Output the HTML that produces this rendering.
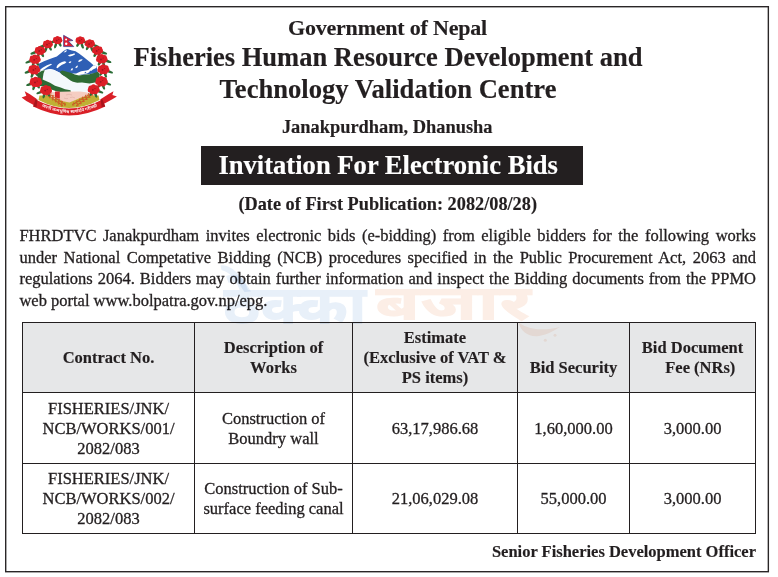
<!DOCTYPE html>
<html lang="en">
<head>
<meta charset="utf-8">
<title>Invitation For Electronic Bids</title>
<style>
html,body{margin:0;padding:0;background:#fff;}
body{width:778px;height:577px;position:relative;overflow:hidden;
  font-family:"Liberation Serif","Times New Roman",serif;color:#231f20;-webkit-text-stroke:0.3px #231f20;}
.b,.ln,.sig{-webkit-text-stroke:0.15px #231f20;}
.t5{-webkit-text-stroke:0.15px #fff;}
.wm{-webkit-text-stroke:0;}
.frame{position:absolute;left:0;top:0;}
.ln{position:absolute;left:0;width:776px;text-align:center;white-space:nowrap;line-height:1;font-weight:bold;}
.t1{top:16.9px;font-size:22px;letter-spacing:-0.2px;margin-left:-0.5px;}
.t2{top:43.5px;font-size:26.5px;}
.t3{top:76.1px;font-size:26.6px;}
.t4{top:117.9px;font-size:18.4px;margin-left:-0.8px;}
.bar{position:absolute;left:201px;top:146px;width:382px;height:39px;background:#231f20;}
.t5{position:absolute;left:218.4px;top:151.8px;font-size:26.6px;line-height:1;font-weight:bold;color:#fff;white-space:nowrap;}
.t6{top:194.9px;font-size:18.3px;margin-left:-0.3px;}
.para{position:absolute;left:19.4px;top:224.8px;width:736.6px;font-size:16.5px;line-height:21.75px;text-align:justify;margin:0;}
.hd{position:absolute;left:22px;top:322px;width:734px;height:71px;background:#e6e7e8;}
.h{position:absolute;background:#231f20;height:1px;left:22px;width:734px;}
.v{position:absolute;background:#231f20;width:1px;top:322px;height:212px;}
.c{position:absolute;padding-top:1.2px;box-sizing:border-box;display:flex;align-items:center;justify-content:center;text-align:center;font-size:16.5px;line-height:20px;}
.b{font-weight:bold;}
.sig{position:absolute;left:20px;width:736px;top:544.1px;text-align:right;font-size:16.5px;line-height:1;font-weight:bold;white-space:nowrap;}
.wm{position:absolute;font-family:"Noto Sans Devanagari","Baloo 2","Mukta",sans-serif;font-weight:800;line-height:1;white-space:nowrap;transform-origin:0 0;mix-blend-mode:multiply;}
.wm1{left:223px;top:283.7px;font-size:54px;color:#e8f0f9;transform:scaleX(1.117);}
.wm2{left:375.3px;top:283.1px;font-size:50px;color:#fceee6;transform:scaleX(1.43);}
.wm3{position:absolute;left:0;top:0;mix-blend-mode:multiply;}
.emb{position:absolute;left:18px;top:30px;-webkit-text-stroke:0;}
</style>
</head>
<body>
<svg class="frame" width="778" height="577" viewBox="0 0 778 577"><rect x="5.7" y="6.7" width="762.65" height="565" fill="none" stroke="#2a2627" stroke-width="1.4"/></svg>

<svg class="emb" width="104" height="90" viewBox="18 30 104 90">
<polygon points="36.5,98.8 29.9,94.3 24.7,91.3 26.3,95.7 21.6,97.4 26.3,101 34.1,105.2 37,106" fill="#d91f27"/>
<polygon points="100.5,99.2 109.1,93.7 113.5,91.2 112.4,95.1 116.9,96.5 111.9,99.5 104.1,103.7 101,105" fill="#d91f27"/>
<polygon points="39.3,70.5 38.8,63.8 44,61.2 48.5,59.6 52.5,58 56.8,56.6 60.5,53.5 63.5,51 66,49.4 67.6,49.1 69.5,49.8 72,50.6 75.5,51.2 79,53.5 83,56.5 87,59.8 90.5,62.5 93.5,65.2 96.5,66.3 97.8,73 90,74 76,75.5 62,76 59.8,72.7 53.9,69.8 50.2,68.9 46,69.8" fill="#2f5fb5"/>
<polygon points="56.3,67.5 57.5,65 59.5,63.3 62,62 64.5,61.3 66.5,62 65,63.5 62,64.8 59.5,66.5 57.5,68.3" fill="#ffffff"/>
<polygon points="67.8,55.8 70,54.5 72.5,54 74.5,53.2 75,54.5 72.5,55.8 70,56.5" fill="#ffffff"/>
<polygon points="78,61.2 79.5,59.8 81.5,59.2 82.8,59.6 81.2,61 79,62" fill="#ffffff"/>
<polygon points="75.3,67.5 76.5,66 78,65.6 77.5,67.3 76,68.2" fill="#ffffff"/>
<polygon points="70.5,70.5 71.5,68.5 73,68.3 72.5,70.2" fill="#ffffff"/>
<polygon points="40,69.8 43,67.5 47,65.3 51,63.8 52,64.6 48,66.8 44,69.5 41.5,70.5" fill="#ffffff"/>
<polygon points="93.5,65.2 96.6,66.2 96.2,68 93,69.5 90.5,71.5 87,73.5 82,74.5 76,75.5 72,75.5 72.5,73.6 76.1,73.4 81.1,71.2 86,70.6 88.3,70.1 91,67.5" fill="#ffffff"/>
<polygon points="63.5,52.5 65.5,50.5 67,50.2 66,52" fill="#ffffff"/>
<polygon points="68.5,62.5 70.2,61.2 71.5,61.8 70,63.2" fill="#ffffff"/>
<path d="M89,72.3 l1.5,-1.8 l1,1.2 z M84,73.3 l1.6,-1.5 l0.8,1.3 z" fill="#2f5fb5"/>
<polygon points="39.3,70.6 46,69.9 50.2,69 53.9,69.9 59.8,72.8 62,74.5 66,77 70.5,80.4 73,81.5 77.1,82.5 82,82.5 89.5,83.3 91.5,84.6 91.5,92.5 80,92.5 70.5,90.3 65,89.5 60.7,87.8 55,86 50,83 42.6,79.6 41,76" fill="#f3f8fc"/>
<polygon points="59.6,71.8 62.3,70.4 66,71.4 70.5,72.8 74.8,74.6 78.8,75.4 84,74.8 89.5,74.2 94,73 98,71.8 99.5,74 99.5,83 95,82.6 89.5,83.4 82,82.6 77.1,82.7 73,81.7 70.5,80.5 66,77.2 62,74.6" fill="#2e6a34"/>
<polygon points="37.5,73.5 41.5,71 44.8,69.9 43.5,73.5 42.6,79.4 50,82.8 55,85.8 60.7,87.6 65,89.3 70.5,90.2 71,92.8 63,92.8 57,91.5 50,89 44,86.5 39.5,86 37.5,80" fill="#2e6a34"/>
<path d="M39.5,95.5 L98.5,95.5 L99.5,100 Q69,116 38.5,100 Z" fill="#bfb134"/>
<polygon points="50.8,92.2 60,91.8 70,91.4 80,91.4 87.8,92.4 88,96 81,97.5 76,99.8 69.5,102.4 63,101.2 57.5,99 50.8,98.2" fill="#f5cdc2"/>
<polygon points="55,91.6 59.8,91.6 59.8,98.6 55,98.4" fill="#d9232b"/>
<path d="M66,95 q3,-1.5 6,0 M70,97.5 q3,-1 5,0.5 M64,98 q2,1 4,0.5" stroke="#d9a79c" stroke-width="0.5" fill="none"/>
<line x1="42" y1="91" x2="63" y2="106" stroke="#a8501e" stroke-width="0.7"/>
<ellipse cx="43.5" cy="91.2" rx="1.4" ry="0.55" transform="rotate(11 43.5 91.2)" fill="#d65a26"/>
<ellipse cx="43.5" cy="93.0" rx="1.4" ry="0.55" transform="rotate(61 43.5 93.0)" fill="#d65a26"/>
<ellipse cx="46.5" cy="93.3" rx="1.4" ry="0.55" transform="rotate(11 46.5 93.3)" fill="#d65a26"/>
<ellipse cx="46.5" cy="95.1" rx="1.4" ry="0.55" transform="rotate(61 46.5 95.1)" fill="#d65a26"/>
<ellipse cx="49.5" cy="95.5" rx="1.4" ry="0.55" transform="rotate(11 49.5 95.5)" fill="#d65a26"/>
<ellipse cx="49.5" cy="97.3" rx="1.4" ry="0.55" transform="rotate(61 49.5 97.3)" fill="#d65a26"/>
<ellipse cx="52.5" cy="97.6" rx="1.4" ry="0.55" transform="rotate(11 52.5 97.6)" fill="#d65a26"/>
<ellipse cx="52.5" cy="99.4" rx="1.4" ry="0.55" transform="rotate(61 52.5 99.4)" fill="#d65a26"/>
<ellipse cx="55.5" cy="99.7" rx="1.4" ry="0.55" transform="rotate(11 55.5 99.7)" fill="#d65a26"/>
<ellipse cx="55.5" cy="101.5" rx="1.4" ry="0.55" transform="rotate(61 55.5 101.5)" fill="#d65a26"/>
<ellipse cx="58.5" cy="101.9" rx="1.4" ry="0.55" transform="rotate(11 58.5 101.9)" fill="#d65a26"/>
<ellipse cx="58.5" cy="103.7" rx="1.4" ry="0.55" transform="rotate(61 58.5 103.7)" fill="#d65a26"/>
<ellipse cx="61.5" cy="104.0" rx="1.4" ry="0.55" transform="rotate(11 61.5 104.0)" fill="#d65a26"/>
<ellipse cx="61.5" cy="105.8" rx="1.4" ry="0.55" transform="rotate(61 61.5 105.8)" fill="#d65a26"/>
<line x1="46" y1="92" x2="66" y2="105" stroke="#a8501e" stroke-width="0.7"/>
<ellipse cx="47.4" cy="92.0" rx="1.4" ry="0.55" transform="rotate(8 47.4 92.0)" fill="#d65a26"/>
<ellipse cx="47.4" cy="93.8" rx="1.4" ry="0.55" transform="rotate(58 47.4 93.8)" fill="#d65a26"/>
<ellipse cx="50.3" cy="93.9" rx="1.4" ry="0.55" transform="rotate(8 50.3 93.9)" fill="#d65a26"/>
<ellipse cx="50.3" cy="95.7" rx="1.4" ry="0.55" transform="rotate(58 50.3 95.7)" fill="#d65a26"/>
<ellipse cx="53.1" cy="95.7" rx="1.4" ry="0.55" transform="rotate(8 53.1 95.7)" fill="#d65a26"/>
<ellipse cx="53.1" cy="97.5" rx="1.4" ry="0.55" transform="rotate(58 53.1 97.5)" fill="#d65a26"/>
<ellipse cx="56.0" cy="97.6" rx="1.4" ry="0.55" transform="rotate(8 56.0 97.6)" fill="#d65a26"/>
<ellipse cx="56.0" cy="99.4" rx="1.4" ry="0.55" transform="rotate(58 56.0 99.4)" fill="#d65a26"/>
<ellipse cx="58.9" cy="99.5" rx="1.4" ry="0.55" transform="rotate(8 58.9 99.5)" fill="#d65a26"/>
<ellipse cx="58.9" cy="101.3" rx="1.4" ry="0.55" transform="rotate(58 58.9 101.3)" fill="#d65a26"/>
<ellipse cx="61.7" cy="101.3" rx="1.4" ry="0.55" transform="rotate(8 61.7 101.3)" fill="#d65a26"/>
<ellipse cx="61.7" cy="103.1" rx="1.4" ry="0.55" transform="rotate(58 61.7 103.1)" fill="#d65a26"/>
<ellipse cx="64.6" cy="103.2" rx="1.4" ry="0.55" transform="rotate(8 64.6 103.2)" fill="#d65a26"/>
<ellipse cx="64.6" cy="105.0" rx="1.4" ry="0.55" transform="rotate(58 64.6 105.0)" fill="#d65a26"/>
<line x1="97" y1="91" x2="76" y2="106" stroke="#a8501e" stroke-width="0.7"/>
<ellipse cx="95.5" cy="91.2" rx="1.4" ry="0.55" transform="rotate(119 95.5 91.2)" fill="#d65a26"/>
<ellipse cx="95.5" cy="93.0" rx="1.4" ry="0.55" transform="rotate(169 95.5 93.0)" fill="#d65a26"/>
<ellipse cx="92.5" cy="93.3" rx="1.4" ry="0.55" transform="rotate(119 92.5 93.3)" fill="#d65a26"/>
<ellipse cx="92.5" cy="95.1" rx="1.4" ry="0.55" transform="rotate(169 92.5 95.1)" fill="#d65a26"/>
<ellipse cx="89.5" cy="95.5" rx="1.4" ry="0.55" transform="rotate(119 89.5 95.5)" fill="#d65a26"/>
<ellipse cx="89.5" cy="97.3" rx="1.4" ry="0.55" transform="rotate(169 89.5 97.3)" fill="#d65a26"/>
<ellipse cx="86.5" cy="97.6" rx="1.4" ry="0.55" transform="rotate(119 86.5 97.6)" fill="#d65a26"/>
<ellipse cx="86.5" cy="99.4" rx="1.4" ry="0.55" transform="rotate(169 86.5 99.4)" fill="#d65a26"/>
<ellipse cx="83.5" cy="99.7" rx="1.4" ry="0.55" transform="rotate(119 83.5 99.7)" fill="#d65a26"/>
<ellipse cx="83.5" cy="101.5" rx="1.4" ry="0.55" transform="rotate(169 83.5 101.5)" fill="#d65a26"/>
<ellipse cx="80.5" cy="101.9" rx="1.4" ry="0.55" transform="rotate(119 80.5 101.9)" fill="#d65a26"/>
<ellipse cx="80.5" cy="103.7" rx="1.4" ry="0.55" transform="rotate(169 80.5 103.7)" fill="#d65a26"/>
<ellipse cx="77.5" cy="104.0" rx="1.4" ry="0.55" transform="rotate(119 77.5 104.0)" fill="#d65a26"/>
<ellipse cx="77.5" cy="105.8" rx="1.4" ry="0.55" transform="rotate(169 77.5 105.8)" fill="#d65a26"/>
<line x1="93" y1="92" x2="72" y2="105" stroke="#a8501e" stroke-width="0.7"/>
<ellipse cx="91.5" cy="92.0" rx="1.4" ry="0.55" transform="rotate(123 91.5 92.0)" fill="#d65a26"/>
<ellipse cx="91.5" cy="93.8" rx="1.4" ry="0.55" transform="rotate(173 91.5 93.8)" fill="#d65a26"/>
<ellipse cx="88.5" cy="93.9" rx="1.4" ry="0.55" transform="rotate(123 88.5 93.9)" fill="#d65a26"/>
<ellipse cx="88.5" cy="95.7" rx="1.4" ry="0.55" transform="rotate(173 88.5 95.7)" fill="#d65a26"/>
<ellipse cx="85.5" cy="95.7" rx="1.4" ry="0.55" transform="rotate(123 85.5 95.7)" fill="#d65a26"/>
<ellipse cx="85.5" cy="97.5" rx="1.4" ry="0.55" transform="rotate(173 85.5 97.5)" fill="#d65a26"/>
<ellipse cx="82.5" cy="97.6" rx="1.4" ry="0.55" transform="rotate(123 82.5 97.6)" fill="#d65a26"/>
<ellipse cx="82.5" cy="99.4" rx="1.4" ry="0.55" transform="rotate(173 82.5 99.4)" fill="#d65a26"/>
<ellipse cx="79.5" cy="99.5" rx="1.4" ry="0.55" transform="rotate(123 79.5 99.5)" fill="#d65a26"/>
<ellipse cx="79.5" cy="101.3" rx="1.4" ry="0.55" transform="rotate(173 79.5 101.3)" fill="#d65a26"/>
<ellipse cx="76.5" cy="101.3" rx="1.4" ry="0.55" transform="rotate(123 76.5 101.3)" fill="#d65a26"/>
<ellipse cx="76.5" cy="103.1" rx="1.4" ry="0.55" transform="rotate(173 76.5 103.1)" fill="#d65a26"/>
<ellipse cx="73.5" cy="103.2" rx="1.4" ry="0.55" transform="rotate(123 73.5 103.2)" fill="#d65a26"/>
<ellipse cx="73.5" cy="105.0" rx="1.4" ry="0.55" transform="rotate(173 73.5 105.0)" fill="#d65a26"/>
<ellipse cx="51.5" cy="42.4" rx="3.8" ry="1.3" transform="rotate(160 51.5 42.4)" fill="#2b6d37"/>
<ellipse cx="55.6" cy="45.4" rx="3.2" ry="1.3" transform="rotate(110 55.6 45.4)" fill="#2b6d37"/>
<ellipse cx="59.8" cy="44.2" rx="2.8" ry="1.3" transform="rotate(60 59.8 44.2)" fill="#2b6d37"/>
<ellipse cx="41.8" cy="46.4" rx="3.8" ry="1.3" transform="rotate(160 41.8 46.4)" fill="#2b6d37"/>
<ellipse cx="45.9" cy="49.4" rx="3.2" ry="1.3" transform="rotate(110 45.9 49.4)" fill="#2b6d37"/>
<ellipse cx="50.1" cy="48.2" rx="2.8" ry="1.3" transform="rotate(60 50.1 48.2)" fill="#2b6d37"/>
<ellipse cx="34.0" cy="52.8" rx="3.8" ry="1.3" transform="rotate(160 34.0 52.8)" fill="#2b6d37"/>
<ellipse cx="38.1" cy="55.8" rx="3.2" ry="1.3" transform="rotate(110 38.1 55.8)" fill="#2b6d37"/>
<ellipse cx="42.3" cy="54.6" rx="2.8" ry="1.3" transform="rotate(60 42.3 54.6)" fill="#2b6d37"/>
<ellipse cx="29.0" cy="61.6" rx="3.8" ry="1.3" transform="rotate(160 29.0 61.6)" fill="#2b6d37"/>
<ellipse cx="33.1" cy="64.6" rx="3.2" ry="1.3" transform="rotate(110 33.1 64.6)" fill="#2b6d37"/>
<ellipse cx="37.3" cy="63.4" rx="2.8" ry="1.3" transform="rotate(60 37.3 63.4)" fill="#2b6d37"/>
<ellipse cx="28.2" cy="71.8" rx="3.8" ry="1.3" transform="rotate(160 28.2 71.8)" fill="#2b6d37"/>
<ellipse cx="32.3" cy="74.8" rx="3.2" ry="1.3" transform="rotate(110 32.3 74.8)" fill="#2b6d37"/>
<ellipse cx="36.5" cy="73.6" rx="2.8" ry="1.3" transform="rotate(60 36.5 73.6)" fill="#2b6d37"/>
<ellipse cx="29.8" cy="84.2" rx="3.8" ry="1.3" transform="rotate(160 29.8 84.2)" fill="#2b6d37"/>
<ellipse cx="33.9" cy="87.2" rx="3.2" ry="1.3" transform="rotate(110 33.9 87.2)" fill="#2b6d37"/>
<ellipse cx="38.1" cy="86.0" rx="2.8" ry="1.3" transform="rotate(60 38.1 86.0)" fill="#2b6d37"/>
<ellipse cx="40.0" cy="92.4" rx="3.8" ry="1.3" transform="rotate(160 40.0 92.4)" fill="#2b6d37"/>
<ellipse cx="44.1" cy="95.4" rx="3.2" ry="1.3" transform="rotate(110 44.1 95.4)" fill="#2b6d37"/>
<ellipse cx="48.3" cy="94.2" rx="2.8" ry="1.3" transform="rotate(60 48.3 94.2)" fill="#2b6d37"/>
<ellipse cx="86.3" cy="42.6" rx="3.8" ry="1.3" transform="rotate(20 86.3 42.6)" fill="#2b6d37"/>
<ellipse cx="82.2" cy="45.6" rx="3.2" ry="1.3" transform="rotate(70 82.2 45.6)" fill="#2b6d37"/>
<ellipse cx="78.0" cy="44.4" rx="2.8" ry="1.3" transform="rotate(120 78.0 44.4)" fill="#2b6d37"/>
<ellipse cx="95.9" cy="45.9" rx="3.8" ry="1.3" transform="rotate(20 95.9 45.9)" fill="#2b6d37"/>
<ellipse cx="91.8" cy="48.9" rx="3.2" ry="1.3" transform="rotate(70 91.8 48.9)" fill="#2b6d37"/>
<ellipse cx="87.6" cy="47.7" rx="2.8" ry="1.3" transform="rotate(120 87.6 47.7)" fill="#2b6d37"/>
<ellipse cx="103.5" cy="52.7" rx="3.8" ry="1.3" transform="rotate(20 103.5 52.7)" fill="#2b6d37"/>
<ellipse cx="99.4" cy="55.7" rx="3.2" ry="1.3" transform="rotate(70 99.4 55.7)" fill="#2b6d37"/>
<ellipse cx="95.2" cy="54.5" rx="2.8" ry="1.3" transform="rotate(120 95.2 54.5)" fill="#2b6d37"/>
<ellipse cx="107.8" cy="61.2" rx="3.8" ry="1.3" transform="rotate(20 107.8 61.2)" fill="#2b6d37"/>
<ellipse cx="103.7" cy="64.2" rx="3.2" ry="1.3" transform="rotate(70 103.7 64.2)" fill="#2b6d37"/>
<ellipse cx="99.5" cy="63.0" rx="2.8" ry="1.3" transform="rotate(120 99.5 63.0)" fill="#2b6d37"/>
<ellipse cx="109.4" cy="71.6" rx="3.8" ry="1.3" transform="rotate(20 109.4 71.6)" fill="#2b6d37"/>
<ellipse cx="105.3" cy="74.6" rx="3.2" ry="1.3" transform="rotate(70 105.3 74.6)" fill="#2b6d37"/>
<ellipse cx="101.1" cy="73.4" rx="2.8" ry="1.3" transform="rotate(120 101.1 73.4)" fill="#2b6d37"/>
<ellipse cx="107.5" cy="83.6" rx="3.8" ry="1.3" transform="rotate(20 107.5 83.6)" fill="#2b6d37"/>
<ellipse cx="103.4" cy="86.6" rx="3.2" ry="1.3" transform="rotate(70 103.4 86.6)" fill="#2b6d37"/>
<ellipse cx="99.2" cy="85.4" rx="2.8" ry="1.3" transform="rotate(120 99.2 85.4)" fill="#2b6d37"/>
<ellipse cx="99.7" cy="91.6" rx="3.8" ry="1.3" transform="rotate(20 99.7 91.6)" fill="#2b6d37"/>
<ellipse cx="95.6" cy="94.6" rx="3.2" ry="1.3" transform="rotate(70 95.6 94.6)" fill="#2b6d37"/>
<ellipse cx="91.4" cy="93.4" rx="2.8" ry="1.3" transform="rotate(120 91.4 93.4)" fill="#2b6d37"/>
<ellipse cx="57.5" cy="40.2" rx="3.85" ry="3.20" fill="#dc1f27"/>
<circle cx="60.4" cy="40.6" r="2.05" fill="#dc1f27"/>
<circle cx="58.9" cy="42.1" r="2.05" fill="#dc1f27"/>
<circle cx="56.4" cy="42.2" r="2.05" fill="#dc1f27"/>
<circle cx="54.7" cy="40.8" r="2.05" fill="#dc1f27"/>
<circle cx="55.1" cy="39.0" r="2.05" fill="#dc1f27"/>
<circle cx="57.4" cy="38.1" r="2.05" fill="#dc1f27"/>
<circle cx="59.7" cy="38.8" r="2.05" fill="#dc1f27"/>
<circle cx="56.7" cy="40.6" r="0.9" fill="#9a1820"/>
<circle cx="58.8" cy="39.3" r="0.6" fill="#9a1820"/>
<ellipse cx="47.8" cy="44.2" rx="4.04" ry="3.35" fill="#dc1f27"/>
<circle cx="50.8" cy="44.6" r="2.15" fill="#dc1f27"/>
<circle cx="49.3" cy="46.2" r="2.15" fill="#dc1f27"/>
<circle cx="46.6" cy="46.3" r="2.15" fill="#dc1f27"/>
<circle cx="44.8" cy="44.8" r="2.15" fill="#dc1f27"/>
<circle cx="45.3" cy="42.9" r="2.15" fill="#dc1f27"/>
<circle cx="47.6" cy="42.0" r="2.15" fill="#dc1f27"/>
<circle cx="50.1" cy="42.7" r="2.15" fill="#dc1f27"/>
<circle cx="47.0" cy="44.6" r="0.9" fill="#9a1820"/>
<circle cx="49.1" cy="43.3" r="0.6" fill="#9a1820"/>
<ellipse cx="40.0" cy="50.6" rx="4.32" ry="3.59" fill="#dc1f27"/>
<circle cx="43.3" cy="51.0" r="2.30" fill="#dc1f27"/>
<circle cx="41.6" cy="52.7" r="2.30" fill="#dc1f27"/>
<circle cx="38.7" cy="52.8" r="2.30" fill="#dc1f27"/>
<circle cx="36.8" cy="51.2" r="2.30" fill="#dc1f27"/>
<circle cx="37.3" cy="49.2" r="2.30" fill="#dc1f27"/>
<circle cx="39.8" cy="48.2" r="2.30" fill="#dc1f27"/>
<circle cx="42.5" cy="49.0" r="2.30" fill="#dc1f27"/>
<circle cx="39.2" cy="51.0" r="0.9" fill="#9a1820"/>
<circle cx="41.3" cy="49.7" r="0.6" fill="#9a1820"/>
<ellipse cx="35.0" cy="59.4" rx="4.56" ry="3.78" fill="#dc1f27"/>
<circle cx="38.4" cy="59.8" r="2.42" fill="#dc1f27"/>
<circle cx="36.7" cy="61.6" r="2.42" fill="#dc1f27"/>
<circle cx="33.6" cy="61.7" r="2.42" fill="#dc1f27"/>
<circle cx="31.6" cy="60.1" r="2.42" fill="#dc1f27"/>
<circle cx="32.2" cy="57.9" r="2.42" fill="#dc1f27"/>
<circle cx="34.8" cy="56.9" r="2.42" fill="#dc1f27"/>
<circle cx="37.6" cy="57.7" r="2.42" fill="#dc1f27"/>
<circle cx="34.2" cy="59.8" r="0.9" fill="#9a1820"/>
<circle cx="36.3" cy="58.5" r="0.6" fill="#9a1820"/>
<ellipse cx="34.2" cy="69.6" rx="4.70" ry="3.90" fill="#dc1f27"/>
<circle cx="37.7" cy="70.1" r="2.50" fill="#dc1f27"/>
<circle cx="35.9" cy="71.9" r="2.50" fill="#dc1f27"/>
<circle cx="32.8" cy="72.0" r="2.50" fill="#dc1f27"/>
<circle cx="30.7" cy="70.3" r="2.50" fill="#dc1f27"/>
<circle cx="31.3" cy="68.1" r="2.50" fill="#dc1f27"/>
<circle cx="34.0" cy="67.0" r="2.50" fill="#dc1f27"/>
<circle cx="36.9" cy="67.9" r="2.50" fill="#dc1f27"/>
<circle cx="33.4" cy="70.0" r="0.9" fill="#9a1820"/>
<circle cx="35.5" cy="68.7" r="0.6" fill="#9a1820"/>
<ellipse cx="35.8" cy="82.0" rx="4.89" ry="4.06" fill="#dc1f27"/>
<circle cx="39.5" cy="82.5" r="2.60" fill="#dc1f27"/>
<circle cx="37.6" cy="84.4" r="2.60" fill="#dc1f27"/>
<circle cx="34.3" cy="84.5" r="2.60" fill="#dc1f27"/>
<circle cx="32.2" cy="82.7" r="2.60" fill="#dc1f27"/>
<circle cx="32.8" cy="80.4" r="2.60" fill="#dc1f27"/>
<circle cx="35.6" cy="79.3" r="2.60" fill="#dc1f27"/>
<circle cx="38.6" cy="80.2" r="2.60" fill="#dc1f27"/>
<circle cx="35.0" cy="82.4" r="0.9" fill="#9a1820"/>
<circle cx="37.1" cy="81.1" r="0.6" fill="#9a1820"/>
<ellipse cx="46.0" cy="90.2" rx="4.70" ry="3.90" fill="#dc1f27"/>
<circle cx="49.5" cy="90.7" r="2.50" fill="#dc1f27"/>
<circle cx="47.7" cy="92.5" r="2.50" fill="#dc1f27"/>
<circle cx="44.6" cy="92.6" r="2.50" fill="#dc1f27"/>
<circle cx="42.5" cy="90.9" r="2.50" fill="#dc1f27"/>
<circle cx="43.1" cy="88.7" r="2.50" fill="#dc1f27"/>
<circle cx="45.8" cy="87.6" r="2.50" fill="#dc1f27"/>
<circle cx="48.7" cy="88.5" r="2.50" fill="#dc1f27"/>
<circle cx="45.2" cy="90.6" r="0.9" fill="#9a1820"/>
<circle cx="47.3" cy="89.3" r="0.6" fill="#9a1820"/>
<ellipse cx="80.3" cy="40.4" rx="3.85" ry="3.20" fill="#dc1f27"/>
<circle cx="83.2" cy="40.8" r="2.05" fill="#dc1f27"/>
<circle cx="81.7" cy="42.3" r="2.05" fill="#dc1f27"/>
<circle cx="79.2" cy="42.4" r="2.05" fill="#dc1f27"/>
<circle cx="77.5" cy="41.0" r="2.05" fill="#dc1f27"/>
<circle cx="77.9" cy="39.2" r="2.05" fill="#dc1f27"/>
<circle cx="80.2" cy="38.3" r="2.05" fill="#dc1f27"/>
<circle cx="82.5" cy="39.0" r="2.05" fill="#dc1f27"/>
<circle cx="79.5" cy="40.8" r="0.9" fill="#9a1820"/>
<circle cx="81.6" cy="39.5" r="0.6" fill="#9a1820"/>
<ellipse cx="89.9" cy="43.7" rx="4.04" ry="3.35" fill="#dc1f27"/>
<circle cx="92.9" cy="44.1" r="2.15" fill="#dc1f27"/>
<circle cx="91.4" cy="45.7" r="2.15" fill="#dc1f27"/>
<circle cx="88.7" cy="45.8" r="2.15" fill="#dc1f27"/>
<circle cx="86.9" cy="44.3" r="2.15" fill="#dc1f27"/>
<circle cx="87.4" cy="42.4" r="2.15" fill="#dc1f27"/>
<circle cx="89.7" cy="41.5" r="2.15" fill="#dc1f27"/>
<circle cx="92.2" cy="42.2" r="2.15" fill="#dc1f27"/>
<circle cx="89.1" cy="44.1" r="0.9" fill="#9a1820"/>
<circle cx="91.2" cy="42.8" r="0.6" fill="#9a1820"/>
<ellipse cx="97.5" cy="50.5" rx="4.32" ry="3.59" fill="#dc1f27"/>
<circle cx="100.8" cy="50.9" r="2.30" fill="#dc1f27"/>
<circle cx="99.1" cy="52.6" r="2.30" fill="#dc1f27"/>
<circle cx="96.2" cy="52.7" r="2.30" fill="#dc1f27"/>
<circle cx="94.3" cy="51.1" r="2.30" fill="#dc1f27"/>
<circle cx="94.8" cy="49.1" r="2.30" fill="#dc1f27"/>
<circle cx="97.3" cy="48.1" r="2.30" fill="#dc1f27"/>
<circle cx="100.0" cy="48.9" r="2.30" fill="#dc1f27"/>
<circle cx="96.7" cy="50.9" r="0.9" fill="#9a1820"/>
<circle cx="98.8" cy="49.6" r="0.6" fill="#9a1820"/>
<ellipse cx="101.8" cy="59.0" rx="4.56" ry="3.78" fill="#dc1f27"/>
<circle cx="105.2" cy="59.4" r="2.42" fill="#dc1f27"/>
<circle cx="103.5" cy="61.2" r="2.42" fill="#dc1f27"/>
<circle cx="100.4" cy="61.3" r="2.42" fill="#dc1f27"/>
<circle cx="98.4" cy="59.7" r="2.42" fill="#dc1f27"/>
<circle cx="99.0" cy="57.5" r="2.42" fill="#dc1f27"/>
<circle cx="101.6" cy="56.5" r="2.42" fill="#dc1f27"/>
<circle cx="104.4" cy="57.3" r="2.42" fill="#dc1f27"/>
<circle cx="101.0" cy="59.4" r="0.9" fill="#9a1820"/>
<circle cx="103.1" cy="58.1" r="0.6" fill="#9a1820"/>
<ellipse cx="103.4" cy="69.4" rx="4.70" ry="3.90" fill="#dc1f27"/>
<circle cx="106.9" cy="69.9" r="2.50" fill="#dc1f27"/>
<circle cx="105.1" cy="71.7" r="2.50" fill="#dc1f27"/>
<circle cx="102.0" cy="71.8" r="2.50" fill="#dc1f27"/>
<circle cx="99.9" cy="70.1" r="2.50" fill="#dc1f27"/>
<circle cx="100.5" cy="67.9" r="2.50" fill="#dc1f27"/>
<circle cx="103.2" cy="66.8" r="2.50" fill="#dc1f27"/>
<circle cx="106.1" cy="67.7" r="2.50" fill="#dc1f27"/>
<circle cx="102.6" cy="69.8" r="0.9" fill="#9a1820"/>
<circle cx="104.7" cy="68.5" r="0.6" fill="#9a1820"/>
<ellipse cx="101.5" cy="81.4" rx="4.89" ry="4.06" fill="#dc1f27"/>
<circle cx="105.2" cy="81.9" r="2.60" fill="#dc1f27"/>
<circle cx="103.3" cy="83.8" r="2.60" fill="#dc1f27"/>
<circle cx="100.0" cy="83.9" r="2.60" fill="#dc1f27"/>
<circle cx="97.9" cy="82.1" r="2.60" fill="#dc1f27"/>
<circle cx="98.5" cy="79.8" r="2.60" fill="#dc1f27"/>
<circle cx="101.3" cy="78.7" r="2.60" fill="#dc1f27"/>
<circle cx="104.3" cy="79.6" r="2.60" fill="#dc1f27"/>
<circle cx="100.7" cy="81.8" r="0.9" fill="#9a1820"/>
<circle cx="102.8" cy="80.5" r="0.6" fill="#9a1820"/>
<ellipse cx="93.7" cy="89.4" rx="4.70" ry="3.90" fill="#dc1f27"/>
<circle cx="97.2" cy="89.9" r="2.50" fill="#dc1f27"/>
<circle cx="95.4" cy="91.7" r="2.50" fill="#dc1f27"/>
<circle cx="92.3" cy="91.8" r="2.50" fill="#dc1f27"/>
<circle cx="90.2" cy="90.1" r="2.50" fill="#dc1f27"/>
<circle cx="90.8" cy="87.9" r="2.50" fill="#dc1f27"/>
<circle cx="93.5" cy="86.8" r="2.50" fill="#dc1f27"/>
<circle cx="96.4" cy="87.7" r="2.50" fill="#dc1f27"/>
<circle cx="92.9" cy="89.8" r="0.9" fill="#9a1820"/>
<circle cx="95.0" cy="88.5" r="0.6" fill="#9a1820"/>
<path d="M35.5,99.6 Q69,117.5 102.5,99.6 L105.2,106.6 Q69,124.5 33.2,106.6 Z" fill="#d91f27"/>
<path d="M35.5,99.6 L37.5,99.6 L36.5,106.9 L33.2,106.6 Z" fill="#a8141b"/>
<path d="M102.5,99.6 L100.6,99.6 L101.7,107 L105.2,106.6 Z" fill="#a8141b"/>
<path id="rb" d="M37.5,104.4 Q69,121.5 101.5,104.4" fill="none"/>
<text font-family="'Noto Sans Devanagari','Mukta',sans-serif" font-size="4.3" fill="#ffffff" font-weight="600"><textPath href="#rb" startOffset="50%" text-anchor="middle">जननी जन्मभूमिश्च स्वर्गादपि गरीयसी</textPath></text>
<polygon points="63.6,35.3 72.9,40.5 68.3,41.1 73.75,46.6 63.6,46.6" fill="#dc1f35" stroke="#2b3f95" stroke-width="0.7" stroke-linejoin="miter"/>
<circle cx="66.1" cy="39.5" r="1.0" fill="#fff"/><circle cx="66.2" cy="43.7" r="1.2" fill="#fff"/>
</svg>

<div class="ln t1">Government of Nepal</div>
<div class="ln t2">Fisheries Human Resource Development and</div>
<div class="ln t3">Technology Validation Centre</div>
<div class="ln t4">Janakpurdham, Dhanusha</div>
<div class="bar"></div>
<div class="t5">Invitation For Electronic Bids</div>
<div class="ln t6">(Date of First Publication: 2082/08/28)</div>

<p class="para">FHRDTVC Janakpurdham invites electronic bids (e-bidding) from eligible bidders for the following works under National Competative Bidding (NCB) procedures specified in the Public Procurement Act, 2063 and regulations 2064. Bidders may obtain further information and inspect the Bidding documents from the PPMO web portal www.bolpatra.gov.np/epg.</p>

<div class="hd"></div>
<div class="h" style="top:322px"></div>
<div class="h" style="top:392px"></div>
<div class="h" style="top:463px"></div>
<div class="h" style="top:533px"></div>
<div class="v" style="left:22px"></div>
<div class="v" style="left:194px"></div>
<div class="v" style="left:352px"></div>
<div class="v" style="left:517px"></div>
<div class="v" style="left:629px"></div>
<div class="v" style="left:755px"></div>

<!-- header row -->
<div class="c b" style="left:23px;width:171px;top:323px;height:69px;"><div>Contract No.</div></div>
<div class="c b" style="left:195px;width:157px;top:323px;height:69px;"><div>Description of<br>Works</div></div>
<div class="c b" style="left:353px;width:164px;top:323px;height:69px;"><div>Estimate<br>(Exclusive of VAT &amp;<br>PS items)</div></div>
<div class="c b" style="left:518px;width:111px;top:343px;height:49px;"><div>Bid Security</div></div>
<div class="c b" style="left:630px;width:125px;top:323px;height:69px;"><div>Bid Document<br><span style="position:relative;left:7.8px">Fee (NRs)</span></div></div>

<!-- row 1 -->
<div class="c" style="left:23px;width:171px;top:393px;height:70px;"><div>FISHERIES/JNK/<br>NCB/WORKS/001/<br>2082/083</div></div>
<div class="c" style="left:195px;width:157px;top:393px;height:70px;"><div>Construction of<br>Boundry wall</div></div>
<div class="c" style="left:353px;width:164px;top:393px;height:70px;"><div>63,17,986.68</div></div>
<div class="c" style="left:518px;width:111px;top:393px;height:70px;"><div>1,60,000.00</div></div>
<div class="c" style="left:630px;width:125px;top:393px;height:70px;"><div>3,000.00</div></div>

<!-- row 2 -->
<div class="c" style="left:23px;width:171px;top:464px;height:69px;"><div>FISHERIES/JNK/<br>NCB/WORKS/002/<br>2082/083</div></div>
<div class="c" style="left:195px;width:157px;top:464px;height:69px;"><div>Construction of Sub-<br>surface feeding canal</div></div>
<div class="c" style="left:353px;width:164px;top:464px;height:69px;"><div>21,06,029.08</div></div>
<div class="c" style="left:518px;width:111px;top:464px;height:69px;"><div>55,000.00</div></div>
<div class="c" style="left:630px;width:125px;top:464px;height:69px;"><div>3,000.00</div></div>

<div class="sig">Senior Fisheries Development Officer</div>

<div class="wm wm1">ठेक्का</div>
<div class="wm wm2">बजार</div>
<svg class="wm3" width="778" height="577" viewBox="0 0 778 577"><path d="M518.5,322.5 C521,332 529,337.5 539,336 C548,334.5 554,330.5 560,327 C550,329.5 541,330 533,328.5 C526,327 522,325 518.5,322.5 Z" fill="#fcefe8"/><path d="M220.5,265.5 C229,263.5 240,273 251,291.5 L244.5,292 C237,280 229,271.5 221.5,270 Z" fill="#e8f0f9"/><circle cx="545.3" cy="340.3" r="1.5" fill="#fcefe8"/><circle cx="555" cy="335.3" r="1.5" fill="#fcefe8"/></svg>
</body>
</html>
